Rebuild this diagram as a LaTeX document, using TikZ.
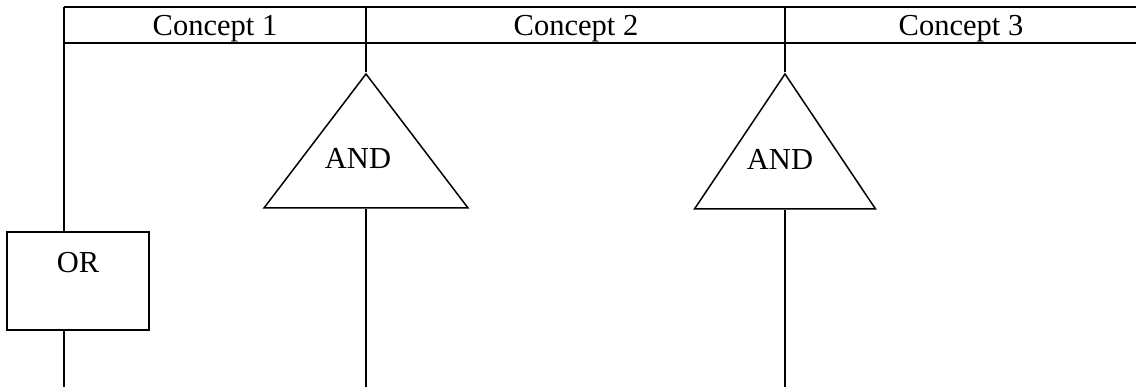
\documentclass[tikz,border=0pt]{standalone}
\usepackage{fontspec}
\setmainfont{Liberation Serif}
\usetikzlibrary{shapes.geometric,positioning}
\tikzset{
    %Define style for header labels
    head/.style={
           anchor=base,
           inner sep=0pt},
    %Define style for the OR box
    orbox/.style={
           rectangle,
           draw=black,
           line width=1.6pt,
           minimum width=142pt,
           minimum height=98pt},
    %Define style for the AND triangles
    andgate/.style={
           isosceles triangle,
           isosceles triangle stretches,
           shape border rotate=90,
           draw=black,
           line width=1.5pt,
           inner sep=0pt,
           anchor=apex},
    % Define line style
    wire/.style={
           line width=1.9pt}
}

\begin{document}
\begin{tikzpicture}[x=1pt, y=-1pt, font=\fontsize{30.5}{36}\selectfont]
    \useasboundingbox (0,0) rectangle (1136,387);
    % header
    \coordinate (topL) at (64,7);
    \coordinate (topR) at (1136,7);
    \coordinate (botL) at (64,43);
    \coordinate (botR) at (1136,43);
    \coordinate (div1) at (366,7);
    \coordinate (div2) at (785,7);
    \draw[wire] (topL) -- (topR);
    \draw[wire] (botL) -- (botR);
    \node [head] (C1) at (215,36) {Concept 1};
    \node [head] (C2) at (576,36) {Concept 2};
    \node [head] (C3) at (961,36) {Concept 3};

    % gates
    \node [orbox] (OR) at (78,281) {};
    \node [head] (ORtext) at (78,273) {OR};
    \node [andgate, minimum width=204pt, minimum height=134pt] (AND1) at (366,72) {};
    \node [head] (AND1text) at (358,169) {AND};
    \node [andgate, minimum width=181pt, minimum height=135pt] (AND2) at (785,72) {};
    \node [head] (AND2text) at (780,170) {AND};

    % ends of the lines
    \coordinate (end0) at (64,387);
    \coordinate (end1) at (366,387);
    \coordinate (end2) at (785,387);

    \draw[wire] (topL) -- (topL |- OR.north);
    \draw[wire] (topL |- OR.south) -- (end0);
    \draw[wire] (div1) -- (AND1.apex);
    \draw[wire] (div1 |- AND1.south) -- (end1);
    \draw[wire] (div2) -- (AND2.apex);
    \draw[wire] (div2 |- AND2.south) -- (end2);
\end{tikzpicture}
\end{document}
